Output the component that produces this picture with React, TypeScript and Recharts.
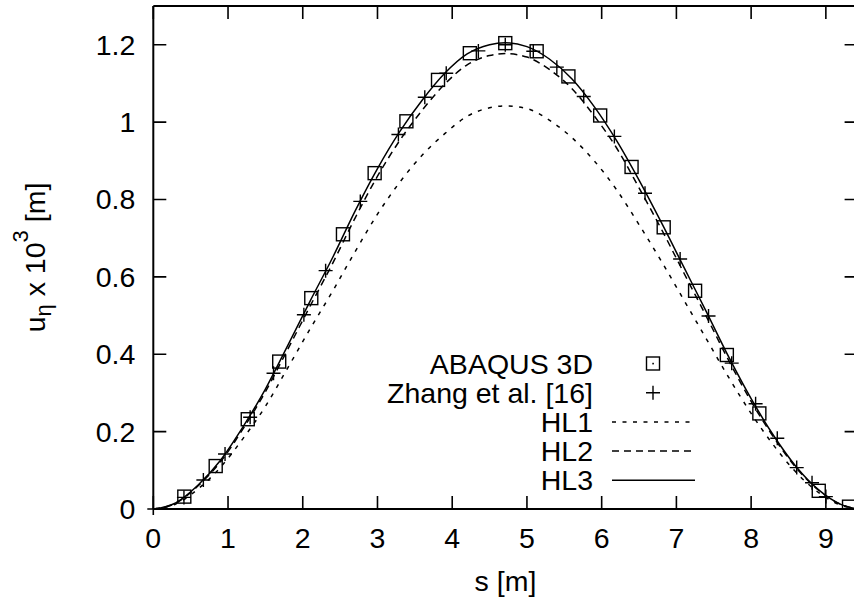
import { ComposedChart, Line, Scatter, XAxis, YAxis, Label } from "recharts";

// arc length s [m] at which the beam solutions were read
const sGrid = [
  0, 0.3, 0.6, 0.9, 1.2, 1.5, 1.8, 2.1, 2.4, 2.7, 3.0, 3.3, 3.6, 3.9, 4.2, 4.5,
  4.71, 5.0, 5.3, 5.6, 5.9, 6.2, 6.5, 6.8, 7.1, 7.4, 7.7, 8.0, 8.3, 8.6, 8.9, 9.2, 9.4248,
];
const hl1 = [
  0, 0.013, 0.052, 0.108, 0.182, 0.265, 0.365, 0.466, 0.563, 0.665, 0.762, 0.845, 0.915,
  0.97, 1.015, 1.037, 1.042, 1.035, 1.005, 0.96, 0.9, 0.825, 0.735, 0.64, 0.54, 0.44,
  0.34, 0.247, 0.165, 0.095, 0.043, 0.01, 0,
];
const hl2 = [
  0, 0.015, 0.06, 0.122, 0.207, 0.303, 0.413, 0.525, 0.635, 0.752, 0.86, 0.953, 1.031,
  1.098, 1.148, 1.172, 1.177, 1.168, 1.136, 1.087, 1.016, 0.933, 0.83, 0.723, 0.61,
  0.498, 0.384, 0.278, 0.186, 0.107, 0.049, 0.012, 0,
];
const hl3 = [
  0, 0.016, 0.062, 0.126, 0.212, 0.31, 0.423, 0.538, 0.65, 0.77, 0.88, 0.976, 1.057,
  1.126, 1.176, 1.2, 1.205, 1.195, 1.163, 1.112, 1.04, 0.952, 0.85, 0.74, 0.625, 0.51,
  0.393, 0.285, 0.19, 0.11, 0.05, 0.012, 0,
];

// ABAQUS 3D reference points
const abaqusS = [
  0.415, 0.835, 1.264, 1.685, 2.114, 2.538, 2.962, 3.387, 3.81, 4.236, 4.71, 5.13, 5.555,
  5.98, 6.4, 6.83, 7.25, 7.675, 8.11, 8.905, 9.31,
];
const abaqusU = [
  0.032, 0.111, 0.232, 0.381, 0.545, 0.71, 0.868, 1.002, 1.109, 1.178, 1.204, 1.183,
  1.118, 1.017, 0.884, 0.728, 0.564, 0.398, 0.247, 0.047, 0.006,
];

// Zhang et al. [16]
const zhangS = [
  0.41, 0.67, 0.96, 1.296, 1.609, 2.015, 2.306, 2.77, 3.28, 3.633, 3.92, 4.35, 4.71,
  5.085, 5.4, 5.76, 6.17, 6.58, 7.05, 7.43, 7.74, 8.06, 8.35, 8.61, 8.815, 9.0,
];
const zhangU = [
  0.03, 0.075, 0.142, 0.237, 0.351, 0.502, 0.616, 0.795, 0.968, 1.064, 1.126, 1.184, 1.2,
  1.183, 1.142, 1.066, 0.963, 0.816, 0.646, 0.499, 0.377, 0.272, 0.183, 0.107, 0.068, 0.032,
];

const xTicks = [0, 1, 2, 3, 4, 5, 6, 7, 8, 9];
const yTicks = [0, 0.2, 0.4, 0.6, 0.8, 1, 1.2];

const FONT = '"Liberation Sans", Arial, Helvetica, sans-serif';
const FS = 28.5;
const S_MAX = 9.4248;
const U_MAX = 1.3;
const TICK = 13;

// chart frame (plot box edges follow from the margins below)
const CHART_W = 870;
const CHART_H = 606;
const MARGIN = { top: 5, right: 11.4, bottom: 96, left: 152.3 };
const PLOT_L = MARGIN.left + 1;
const PLOT_R = CHART_W - MARGIN.right - 1;
const PLOT_T = MARGIN.top + 1;
const PLOT_B = CHART_H - MARGIN.bottom - 1;
// same linear mapping as the chart's axes, used only for the inward tick marks
const sx = (s: number) => PLOT_L + (s / S_MAX) * (PLOT_R - PLOT_L);
const sy = (u: number) => PLOT_B - (u / U_MAX) * (PLOT_B - PLOT_T);

const pts = (xs: number[], ys: number[]) => xs.map((x, i) => ({ x, y: ys[i] }));

const hl1Data = pts(sGrid, hl1);
const hl2Data = pts(sGrid, hl2);
const hl3Data = pts(sGrid, hl3);
const abaqusData = pts(abaqusS, abaqusU);
const zhangData = pts(zhangS, zhangU);

const SquareDot = (p: any) => (
  <rect x={p.cx - 6.5} y={p.cy - 6.5} width={13} height={13} fill="none" stroke="#000" strokeWidth={1.4} />
);
const PlusDot = (p: any) => (
  <path d={`M${p.cx - 7},${p.cy}H${p.cx + 7}M${p.cx},${p.cy - 7}V${p.cy + 7}`} stroke="#000" strokeWidth={1.4} />
);

const BottomTick = ({ x, y, payload }: any) => (
  <text x={x} y={y + 39} textAnchor="middle" fontSize={FS} fontFamily={FONT} fill="#000">
    {payload.value}
  </text>
);
const LeftTick = ({ x, y, payload }: any) => (
  <text x={x - 18} y={y + 10} textAnchor="end" fontSize={FS} fontFamily={FONT} fill="#000">
    {payload.value}
  </text>
);

const XTitle = ({ viewBox }: any) => (
  <text x={viewBox.x + viewBox.width / 2} y={viewBox.y + 82} textAnchor="middle" fontSize={FS} fontFamily={FONT} fill="#000">
    s [m]
  </text>
);
const YTitle = ({ viewBox }: any) => {
  const cx = viewBox.x + viewBox.width - 108;
  const cy = viewBox.y + viewBox.height / 2;
  return (
    <text transform={`translate(${cx},${cy}) rotate(-90)`} textAnchor="middle" fontSize={FS} fontFamily={FONT} fill="#000">
      u
      <tspan fontSize={22} dy={6}>η</tspan>
      <tspan dy={-6}> x 10</tspan>
      <tspan fontSize={22} dy={-17}>3</tspan>
      <tspan dy={17}> [m]</tspan>
    </text>
  );
};

const legendRows = [
  { name: "ABAQUS 3D", kind: "square" },
  { name: "Zhang et al. [16]", kind: "plus" },
  { name: "HL1", kind: "line", dash: "4 6.5" },
  { name: "HL2", kind: "line", dash: "7 5" },
  { name: "HL3", kind: "line", dash: undefined },
];

// gnuplot-style inward ticks on all four borders + the legend
const Overlay = () => {
  let d = "";
  xTicks.forEach((t) => {
    const x = sx(t);
    d += `M${x},${PLOT_B}V${PLOT_B - TICK}M${x},${PLOT_T}V${PLOT_T + TICK}`;
  });
  yTicks.forEach((t) => {
    const y = sy(t);
    d += `M${PLOT_L},${y}H${PLOT_L + TICK}M${PLOT_R},${y}H${PLOT_R - TICK}`;
  });
  d += `M${PLOT_L},${PLOT_B}V${PLOT_B + 6}M${PLOT_L - 6},${PLOT_B}H${PLOT_L}`;
  return (
    <svg width={854} height={606} style={{ position: "absolute", left: 0, top: 0, pointerEvents: "none" }}>
      <path d={d} stroke="#000" strokeWidth={1.6} fill="none" />
      {legendRows.map((r, i) => {
        const cy = 363.5 + i * 29.2;
        return (
          <g key={r.name}>
            <text x={593} y={cy + 10} textAnchor="end" fontSize={FS} fontFamily={FONT} fill="#000">
              {r.name}
            </text>
            {r.kind === "square" && (
              <g>
                <rect x={646.5} y={cy - 6.5} width={13} height={13} fill="none" stroke="#000" strokeWidth={1.4} />
                <rect x={652.3} y={cy - 0.7} width={1.6} height={1.6} fill="#000" />
              </g>
            )}
            {r.kind === "plus" && (
              <path d={`M646,${cy}H660M653,${cy - 7}V${cy + 7}`} stroke="#000" strokeWidth={1.4} />
            )}
            {r.kind === "line" && (
              <path d={`M612,${cy}H695`} stroke="#000" strokeWidth={1.5} strokeDasharray={r.dash} />
            )}
          </g>
        );
      })}
    </svg>
  );
};

export default function App() {
  const axisLine = { stroke: "#000", strokeWidth: 2 };
  return (
    <div style={{ position: "fixed", left: 0, top: 0, width: 854, height: 606, overflow: "hidden", background: "#fff" }}>
      <ComposedChart width={CHART_W} height={CHART_H} margin={MARGIN}>
        <XAxis
          type="number"
          dataKey="x"
          domain={[0, S_MAX]}
          ticks={xTicks}
          height={1}
          tickSize={0}
          tickMargin={0}
          tickLine={false}
          axisLine={axisLine}
          tick={<BottomTick />}
          allowDataOverflow
        >
          <Label content={<XTitle />} />
        </XAxis>
        <XAxis
          xAxisId="top"
          orientation="top"
          type="number"
          dataKey="x"
          domain={[0, S_MAX]}
          height={1}
          tick={false}
          tickLine={false}
          axisLine={axisLine}
          allowDataOverflow
        />
        <YAxis
          type="number"
          dataKey="y"
          domain={[0, U_MAX]}
          ticks={yTicks}
          width={1}
          tickSize={0}
          tickMargin={0}
          tickLine={false}
          axisLine={axisLine}
          tick={<LeftTick />}
          allowDataOverflow
        >
          <Label content={<YTitle />} />
        </YAxis>
        <YAxis
          yAxisId="right"
          orientation="right"
          type="number"
          dataKey="y"
          domain={[0, U_MAX]}
          width={1}
          tick={false}
          tickLine={false}
          axisLine={axisLine}
          allowDataOverflow
        />
        <Line data={hl1Data} dataKey="y" type="monotone" stroke="#000" strokeWidth={1.5} strokeDasharray="4 6.5" dot={false} isAnimationActive={false} />
        <Line data={hl2Data} dataKey="y" type="monotone" stroke="#000" strokeWidth={1.5} strokeDasharray="7 5" dot={false} isAnimationActive={false} />
        <Line data={hl3Data} dataKey="y" type="monotone" stroke="#000" strokeWidth={1.5} dot={false} isAnimationActive={false} />
        <Scatter data={abaqusData} dataKey="y" shape={<SquareDot />} isAnimationActive={false} />
        <Scatter data={zhangData} dataKey="y" shape={<PlusDot />} isAnimationActive={false} />
      </ComposedChart>
      <Overlay />
    </div>
  );
}
